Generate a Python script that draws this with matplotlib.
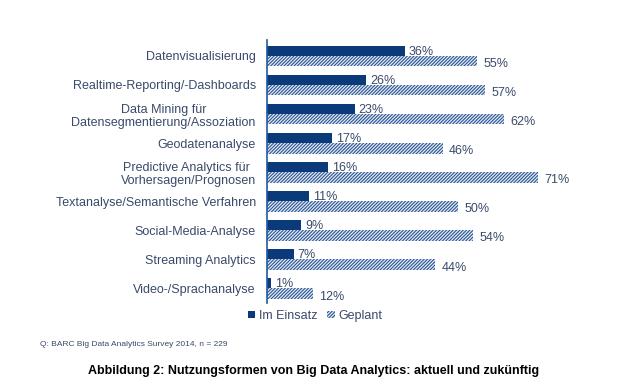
import matplotlib.pyplot as plt
import numpy as np

plt.rcParams['font.family'] = ['Liberation Sans', 'DejaVu Sans']
plt.rcParams['hatch.linewidth'] = 0.8

categories = [
    "Datenvisualisierung",
    "Realtime-Reporting/-Dashboards",
    "Data Mining für\nDatensegmentierung/Assoziation",
    "Geodatenanalyse",
    "Predictive Analytics für \nVorhersagen/Prognosen",
    "Textanalyse/Semantische Verfahren",
    "Social-Media-Analyse",
    "Streaming Analytics",
    "Video-/Sprachanalyse",
]
im_einsatz = [36, 26, 23, 17, 16, 11, 9, 7, 1]
geplant = [55, 57, 62, 46, 71, 50, 54, 44, 12]

navy = "#0b3a7a"
hatch_col = "#2a5592"
text_col = "#3a4a6a"

fig = plt.figure(figsize=(6.18, 3.91), dpi=100)
ax = fig.add_axes([0.432, 0.225, 0.495, 0.673])

y = np.arange(len(categories))
h = 0.34
ax.barh(y - 0.18, im_einsatz, height=h, color=navy, label="Im Einsatz")
ax.barh(y + 0.18, geplant, height=h + 0.02, facecolor="#e4ebf5",
        edgecolor=hatch_col, hatch="//////////", linewidth=0, label="Geplant")

for i, (a, b) in enumerate(zip(im_einsatz, geplant)):
    ax.text(a + 1.0, i - 0.15, f"{a}%", va="center", ha="left",
            fontsize=9, color=text_col)
    ax.text(b + 1.6, i + 0.28, f"{b}%", va="center", ha="left",
            fontsize=9, color=text_col)

ax.set_xlim(0, 80)
ax.set_ylim(len(categories) - 0.5, -0.55)
ax.set_yticks(y)
ax.set_yticklabels(categories, fontsize=9, color=text_col, ha="right",
                   multialignment="center")
ax.tick_params(axis="y", length=0, pad=8)
ax.set_xticks([])
for s in ["top", "right", "bottom"]:
    ax.spines[s].set_visible(False)
ax.spines["left"].set_color("#1f5aa0")
ax.spines["left"].set_linewidth(1.2)

leg = fig.legend(loc="center", bbox_to_anchor=(0.51, 0.192), ncol=2,
                 frameon=False, fontsize=9, handlelength=0.6,
                 handleheight=0.6, handletextpad=0.3, columnspacing=0.8)
for t in leg.get_texts():
    t.set_color(text_col)

fig.text(40 / 618, 1 - 345 / 391, "Q: BARC Big Data Analytics Survey 2014, n = 229",
         fontsize=6, color=text_col, va="center", ha="left")
fig.text(314 / 618, 1 - 371 / 391,
         "Abbildung 2: Nutzungsformen von Big Data Analytics: aktuell und zukünftig",
         fontsize=9, fontweight="bold", color="black", va="center", ha="center")

fig.savefig("out.png", dpi=100)
